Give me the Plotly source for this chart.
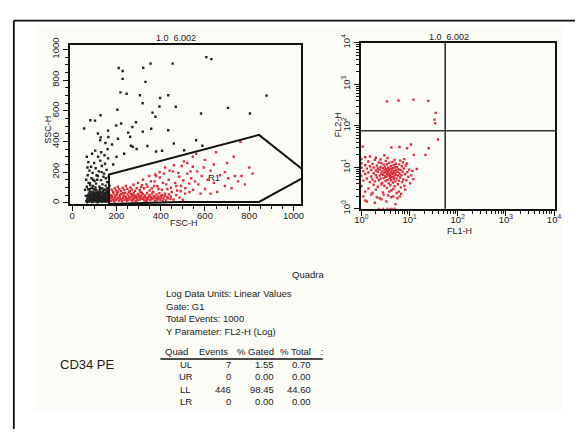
import plotly.graph_objects as go

W, H = 581, 435

# ---- FSC-H / SSC-H events outside the R1 gate (black) ----
ungated_events = [
    (64, 12), (71, 35), (76, 8), (80, 52), (84, 22), (88, 41), (91, 5), (95, 30), (99, 62), (102, 18),
    (106, 44), (109, 9), (113, 27), (117, 70), (120, 38), (124, 14), (127, 55), (131, 24), (134, 6), (138, 47),
    (141, 33), (145, 19), (148, 66), (152, 40), (155, 11), (159, 29), (162, 58), (166, 21), (169, 36), (72, 88),
    (79, 74), (86, 15), (93, 48), (100, 37), (107, 80), (114, 3), (121, 26), (128, 42), (135, 95), (142, 12),
    (149, 31), (156, 77), (163, 45), (68, 26), (75, 60), (82, 33), (89, 98), (96, 20), (103, 54), (110, 31),
    (118, 16), (125, 84), (132, 38), (139, 23), (146, 50), (153, 8), (160, 71), (167, 34), (61, 45), (66, 105),
    (74, 130), (81, 115), (87, 160), (94, 110), (101, 142), (108, 125), (116, 175), (123, 105), (130, 148), (137, 120),
    (144, 190), (151, 112), (158, 135), (165, 168), (70, 180), (78, 210), (85, 235), (92, 195), (99, 260), (106, 225),
    (113, 150), (120, 205), (127, 275), (134, 240), (141, 170), (148, 255), (155, 215), (162, 290), (66, 300), (73, 265),
    (90, 320), (104, 340), (117, 300), (131, 330), (146, 310), (160, 350), (58, 85), (63, 150), (97, 88), (111, 65),
    (126, 92), (143, 85), (157, 96), (168, 110), (84, 70), (105, 100), (122, 57), (139, 76), (154, 60), (118, 46),
    (92, 58), (100, 8), (136, 30), (150, 22), (164, 14), (76, 20), (88, 28), (112, 50), (129, 10), (145, 40),
    (67, 4), (73, 17), (78, 39), (83, 10), (87, 55), (94, 12), (97, 43), (104, 27), (108, 61), (111, 16),
    (115, 39), (119, 7), (123, 49), (126, 31), (130, 68), (133, 17), (137, 39), (140, 58), (144, 9), (147, 28),
    (151, 53), (154, 35), (158, 16), (161, 44), (165, 6), (168, 52), (70, 48), (81, 90), (96, 72), (109, 84),
    (124, 72), (137, 63), (150, 86), (163, 80), (80, 128), (95, 150), (110, 180), (133, 200), (152, 160), (69, 230),
    (210, 879), (228, 860), (228, 808), (321, 881), (354, 908), (454, 908), (606, 950), (629, 937), (331, 789),
    (218, 720), (246, 711), (306, 701), (434, 701), (318, 649), (397, 684), (468, 626), (204, 607), (394, 628),
    (704, 619), (803, 582), (582, 582), (878, 699), (363, 588), (376, 561), (128, 571), (82, 538), (103, 536),
    (54, 485), (162, 471), (221, 517), (199, 504), (288, 525), (272, 494), (253, 458), (319, 464), (357, 483),
    (434, 473), (116, 452), (129, 427), (126, 408), (163, 429), (207, 418), (262, 431), (265, 372), (274, 366),
    (291, 351), (340, 370), (459, 387), (560, 408), (588, 372), (379, 335), (406, 339), (506, 343), (150, 390),
    (180, 380), (235, 320), (200, 300), (185, 250),
]

# ---- events inside R1 (red) ----
r1_events = [
    (172, 30), (176, 12), (180, 45), (183, 22), (187, 60), (190, 8), (194, 35), (197, 18), (201, 52), (204, 28),
    (208, 70), (211, 15), (215, 40), (218, 25), (222, 58), (225, 10), (229, 33), (232, 48), (236, 20), (239, 66),
    (243, 38), (246, 14), (250, 55), (253, 27), (257, 42), (260, 75), (264, 19), (268, 36), (271, 50), (275, 24),
    (278, 62), (282, 31), (286, 12), (289, 46), (293, 28), (297, 58), (300, 38), (304, 20), (308, 70), (311, 44),
    (315, 26), (319, 55), (322, 35), (326, 15), (330, 48), (334, 30), (338, 64), (341, 22), (345, 40), (349, 52),
    (353, 18), (357, 36), (361, 60), (365, 28), (369, 45), (373, 14), (377, 33), (381, 54), (385, 24), (389, 40),
    (394, 62), (398, 20), (403, 35), (408, 50), (413, 28), (418, 44), (424, 16), (430, 38), (437, 55), (444, 26),
    (178, 85), (185, 72), (192, 95), (199, 80), (206, 105), (213, 88), (221, 76), (228, 98), (235, 84), (242, 110),
    (249, 92), (256, 70), (263, 100), (270, 86), (277, 118), (284, 78), (291, 95), (298, 130), (305, 84), (312, 102),
    (174, 50), (181, 36), (188, 18), (195, 44), (202, 62), (209, 34), (216, 50), (223, 20), (230, 62), (237, 42),
    (244, 28), (251, 16), (258, 34), (265, 58), (272, 12), (279, 46), (286, 35), (293, 15), (300, 52), (307, 32),
    (314, 64), (321, 24), (328, 40), (335, 12), (342, 30), (350, 44), (358, 24), (366, 70), (374, 38), (382, 16),
    (390, 30), (400, 46), (410, 14), (420, 60), (432, 30), (445, 42), (458, 22), (470, 50), (485, 34), (500, 18),
    (320, 150), (335, 120), (348, 175), (360, 95), (372, 140), (385, 108), (396, 165), (405, 85), (415, 190), (425, 120),
    (436, 150), (446, 98), (455, 205), (465, 130), (474, 80), (483, 170), (492, 110), (502, 145), (511, 95), (520, 190),
    (529, 125), (538, 160), (546, 85), (555, 140), (530, 70), (510, 60), (490, 75), (470, 110), (450, 70), (430, 90),
    (410, 130), (390, 90), (370, 110), (350, 80), (340, 105), (325, 95), (315, 115), (355, 140), (380, 175), (440, 210),
    (495, 240), (520, 260), (545, 235), (505, 270), (460, 245), (420, 230), (395, 200), (375, 185), (480, 195), (535, 205),
    (570, 120), (585, 175), (600, 90), (612, 150), (625, 210), (640, 130), (655, 70), (668, 180), (690, 110), (705, 160),
    (720, 95), (735, 175), (750, 140), (765, 175), (780, 120), (800, 230), (815, 190), (600, 280), (650, 330), (700, 260),
    (760, 398), (580, 60), (625, 60), (565, 205), (595, 230), (545, 300), (560, 320), (640, 250), (690, 200), (730, 300),
]

# ---- FL1-H / FL2-H for the gated events ----
fl_events = [
    (1.0, 6.2), (1.0, 3.5), (1.0, 9.8), (1.0, 12.5), (1.1, 4.8), (1.1, 8.1), (1.2, 2.6), (1.2, 6.9), (1.2, 11.2), (1.3, 5.4),
    (1.3, 9.3), (1.4, 3.1), (1.4, 7.5), (1.4, 13.8), (1.5, 4.4), (1.5, 10.6), (1.6, 6.0), (1.6, 2.2), (1.6, 8.7), (1.7, 5.1),
    (1.7, 12.1), (1.8, 3.8), (1.8, 7.2), (1.8, 9.9), (1.9, 4.6), (1.9, 15.2), (2.0, 6.5), (2.0, 2.9), (2.0, 8.4), (2.1, 5.7),
    (2.1, 11.0), (2.2, 3.4), (2.2, 7.8), (2.2, 9.4), (2.3, 4.9), (2.3, 13.1), (2.4, 6.3), (2.4, 1.8), (2.4, 8.9), (2.5, 5.3),
    (2.5, 10.2), (2.6, 3.9), (2.6, 7.1), (2.6, 12.6), (2.7, 4.2), (2.7, 8.0), (2.8, 6.6), (2.8, 9.6), (2.8, 2.5), (2.9, 5.5),
    (2.9, 11.6), (3.0, 7.4), (3.0, 3.6), (3.0, 8.8), (3.1, 6.1), (3.1, 10.4), (3.2, 4.7), (3.2, 7.9), (3.2, 14.3), (3.3, 5.9),
    (3.3, 9.1), (3.4, 3.2), (3.4, 6.8), (3.4, 11.9), (3.5, 8.3), (3.5, 5.0), (3.6, 7.6), (3.6, 2.1), (3.6, 9.8), (3.7, 6.4),
    (3.7, 4.1), (3.8, 8.6), (3.8, 12.9), (3.9, 5.6), (3.9, 7.0), (4.0, 9.3), (4.0, 3.7), (4.0, 6.2), (4.1, 10.8), (4.1, 4.9),
    (4.2, 7.7), (4.2, 2.8), (4.3, 8.9), (4.3, 5.8), (4.4, 6.9), (4.4, 13.5), (4.5, 4.3), (4.5, 9.6), (4.6, 7.3), (4.6, 3.0),
    (4.7, 5.2), (4.7, 11.3), (4.8, 8.1), (4.8, 6.0), (4.9, 3.5), (5.0, 9.9), (5.0, 7.1), (5.1, 4.6), (5.2, 6.6), (5.2, 12.2),
    (5.3, 8.5), (5.4, 2.4), (5.4, 5.4), (5.5, 10.1), (5.6, 7.8), (5.7, 3.9), (5.8, 6.3), (5.9, 9.0), (6.0, 4.8), (6.1, 11.8),
    (6.2, 7.2), (6.3, 2.0), (6.4, 5.7), (6.5, 8.7), (6.6, 3.3), (6.8, 6.5), (6.9, 10.6), (7.0, 4.4), (7.2, 7.9), (7.4, 5.1),
    (7.6, 9.4), (7.8, 3.6), (8.0, 6.8), (8.3, 11.1), (8.6, 4.9), (9.0, 7.6), (9.4, 5.9), (9.8, 8.8), (10.3, 4.1), (10.8, 6.4),
    (2.3, 1.0), (2.8, 1.0), (3.4, 1.0), (3.9, 1.0), (4.4, 1.0), (5.0, 1.0),
    (1.2, 1.6), (1.9, 1.4), (2.6, 1.7), (3.3, 1.5), (4.2, 1.9), (5.1, 1.3), (6.0, 2.6), (1.5, 18.2), (2.0, 17.0), (3.0, 19.5),
    (1.1, 2.0), (1.3, 1.5), (1.7, 2.4), (2.1, 1.9), (2.9, 2.2), (3.8, 2.6), (4.6, 2.0), (5.6, 1.8), (6.7, 2.3), (8.1, 2.9),
    (1.0, 15.8), (1.2, 17.5), (2.5, 15.4), (3.5, 16.8), (4.9, 15.0), (6.4, 14.5), (7.3, 13.2), (8.8, 12.4), (11.5, 8.2), (12.0, 5.2),
    (6.2, 31.0), (4.2, 30.0), (1.07, 31.6), (8.9, 28.8), (10.7, 35.5), (12.3, 20.0), (21.4, 20.0), (25.0, 28.8),
    (39.0, 46.8), (14.1, 9.1), (7.8, 15.8),
    (3.4, 389), (5.9, 407), (12.0, 427), (24.5, 398), (33.0, 141), (34.0, 115), (35.0, 205),
]

# R1 gate outline (FSC-H, SSC-H)
gate_fsc = [166, 166, 844, 1070, 844, 480, 166]
gate_ssc = [-8, 185, 443, 185, 6, 6, -8]

# Quadrant markers (FL1-H, FL2-H)
quad_fl1 = 55
quad_fl2 = 76

# Axis ticks
lin_ticks = [0, 200, 400, 600, 800, 1000]
log_ticks = [1, 10, 100, 1000, 10000]
log_tick_text = ["10<sup>0</sup>", "10<sup>1</sup>", "10<sup>2</sup>", "10<sup>3</sup>", "10<sup>4</sup>"]
log_minor = [m * d for d in (1, 10, 100, 1000) for m in range(2, 10)]

# Quadrant statistics
stat_lines = ["Log Data Units: Linear Values", "Gate: G1", "Total Events: 1000", "Y Parameter: FL2-H (Log)"]
quad_names = ["UL", "UR", "LL", "LR"]
quad_events = [7, 0, 446, 0]
quad_pct_gated = [1.55, 0.00, 98.45, 0.00]
quad_pct_total = [0.70, 0.00, 44.60, 0.00]

FONT = "Liberation Sans, Arial, Helvetica, sans-serif"
INK = "#1a1a1a"
RED = "#dc2f3a"


def px(x):
    return x / W


def py(y):
    return 1 - y / H


fig = go.Figure()

fig.add_trace(go.Scatter(
    x=[p[0] for p in ungated_events], y=[p[1] for p in ungated_events],
    mode="markers", marker=dict(size=2.4, color="#202020", symbol="square"),
    xaxis="x", yaxis="y", showlegend=False, hoverinfo="skip"))
fig.add_trace(go.Scatter(
    x=[p[0] for p in r1_events], y=[p[1] for p in r1_events],
    mode="markers", marker=dict(size=2.4, color=RED, symbol="square"),
    xaxis="x", yaxis="y", showlegend=False, hoverinfo="skip"))
fig.add_trace(go.Scatter(
    x=gate_fsc, y=gate_ssc, mode="lines", line=dict(color="#111", width=2),
    xaxis="x", yaxis="y", showlegend=False, hoverinfo="skip"))

fig.add_trace(go.Scatter(
    x=[p[0] for p in fl_events], y=[p[1] for p in fl_events],
    mode="markers", marker=dict(size=2.4, color=RED, symbol="square"),
    xaxis="x2", yaxis="y2", showlegend=False, hoverinfo="skip"))
fig.add_trace(go.Scatter(
    x=[quad_fl1, quad_fl1], y=[0.5, 20000], mode="lines", line=dict(color="#333", width=1.6),
    xaxis="x2", yaxis="y2", showlegend=False, hoverinfo="skip"))
fig.add_trace(go.Scatter(
    x=[0.5, 20000], y=[quad_fl2, quad_fl2], mode="lines", line=dict(color="#333", width=1.6),
    xaxis="x2", yaxis="y2", showlegend=False, hoverinfo="skip"))

axis_common = dict(showline=True, mirror=True, linecolor="#111", linewidth=1.5,
                   showgrid=False, zeroline=False, ticks="outside", tickcolor="#111",
                   tickfont=dict(family=FONT, size=9.5, color=INK))
lin_minor = dict(dtick=50, ticks="outside", ticklen=3, tickcolor="#111")
log_minor_style = dict(tickvals=log_minor, ticks="outside", ticklen=3, tickcolor="#111")

fig.update_layout(
    width=W, height=H, margin=dict(l=0, r=0, t=0, b=0),
    paper_bgcolor="white", plot_bgcolor="rgba(0,0,0,0)",
    xaxis=dict(domain=[px(64), px(301)], range=[-12, 1035], anchor="y",
               tickvals=lin_ticks, ticklen=5, tickwidth=1.3, ticklabelstandoff=-3,
               minor=lin_minor, **axis_common),
    yaxis=dict(domain=[py(202), py(37)], range=[-8, 1031], anchor="x",
               tickvals=lin_ticks, ticklen=5, tickwidth=1.3, tickangle=-90,
               minor=lin_minor, **axis_common),
    xaxis2=dict(domain=[px(362), px(561)], type="log", range=[-0.01, 4.03], anchor="y2",
                tickvals=log_ticks, ticktext=log_tick_text, ticklen=5, tickwidth=1.3,
                ticklabelstandoff=-4, minor=log_minor_style, **axis_common),
    yaxis2=dict(domain=[py(207), py(35)], type="log", range=[0, 4], anchor="x2",
                tickvals=log_ticks, ticktext=log_tick_text, ticklen=5, tickwidth=1.3, tickangle=-90,
                minor=log_minor_style, **axis_common),
)

shapes = [
    # light panel behind the report
    dict(type="rect", xref="paper", yref="paper", x0=px(29), x1=px(568), y0=py(417), y1=py(17),
         fillcolor="#fcfcf7", line=dict(width=0), layer="below"),
    # page frame
    dict(type="line", xref="paper", yref="paper", x0=px(7), x1=px(581), y0=py(12), y1=py(12),
         line=dict(color="#111", width=1.8)),
    dict(type="line", xref="paper", yref="paper", x0=px(7), x1=px(7), y0=py(12), y1=py(435),
         line=dict(color="#111", width=1.8)),
    # table header rule
    dict(type="line", xref="paper", yref="paper", x0=px(157), x1=px(323), y0=py(362.5), y1=py(362.5),
         line=dict(color="#111", width=1.3)),
]
fig.update_layout(shapes=shapes)

ann = []


def text(x, y, s, size=9.5, xanchor="left", angle=0, color=INK):
    ann.append(dict(x=px(x), y=py(y), xref="paper", yref="paper", text=s, showarrow=False,
                    xanchor=xanchor, yanchor="middle", textangle=angle,
                    font=dict(family=FONT, size=size, color=color)))


# plot titles and axis titles
text(173, 30, "1.0  6.002", size=9, xanchor="center")
text(452, 29, "1.0  6.002", size=9, xanchor="center")
text(42, 125, "SSC-H", size=9, xanchor="center", angle=-90)
text(181, 222, "FSC-H", size=9, xanchor="center")
text(338, 120, "FL2-H", size=9, xanchor="center", angle=-90)
text(463, 230, "FL1-H", size=9, xanchor="center")
ann.append(dict(x=640, y=165, xref="x", yref="y", text="R1", showarrow=False,
                font=dict(family=FONT, size=9.5, color=INK)))

# report text
text(308, 275, "Quadra", size=9.5, xanchor="center")
for i, s in enumerate(stat_lines):
    text(160.5, [295, 308, 321, 334][i], s)
text(52, 368, "CD34 PE", size=13)

text(173, 355, "Quad", xanchor="center")
text(211, 355, "Events", xanchor="center")
text(275, 355, "% Gated", xanchor="right")
text(313.5, 355, "% Total", xanchor="right")
text(323, 355, ":", xanchor="center")
for i, name in enumerate(quad_names):
    yrow = [368, 381, 394, 407][i]
    text(183, yrow, name, xanchor="center")
    text(231, yrow, f"{quad_events[i]}", xanchor="right")
    text(275, yrow, f"{quad_pct_gated[i]:.2f}", xanchor="right")
    text(313.5, yrow, f"{quad_pct_total[i]:.2f}", xanchor="right")

fig.update_layout(annotations=ann)

# the page itself adds no margin around the figure
fig.write_html("out.html",
               post_script="document.body.style.margin='0';document.body.style.overflow='hidden';")
